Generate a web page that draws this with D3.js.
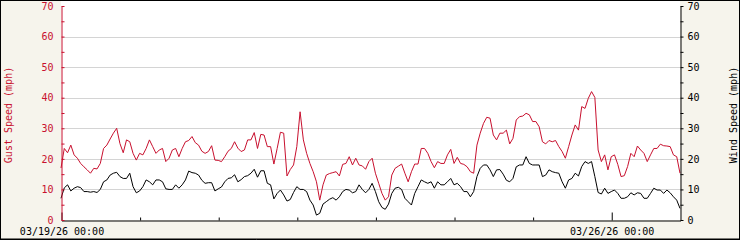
<!DOCTYPE html>
<html>
<head>
<meta charset="utf-8">
<script src="https://cdn.jsdelivr.net/npm/d3@7"></script>
<style>
  html, body { margin: 0; padding: 0; background: #fff; }
  svg { display: block; }
  text { font-family: "DejaVu Sans Mono", monospace; font-size: 10px; }
</style>
</head>
<body>
<svg id="chart" width="740" height="240"></svg>
<script>
// ---- data (hourly readings starting 03/19/26 00:00) ----
const startTime = "2026-03-19T00:00:00";
const gustSpeed = [
  17, 23.4, 22, 24.5, 21.3, 20.2, 18.5, 17.4, 16.4, 15.3,
  16.9, 16.7, 18.5, 23.4, 24.5, 26.5, 28.4, 30, 25, 22,
  26.2, 25.6, 21.8, 19.6, 21.8, 21.3, 23.4, 26.2, 24, 21.8,
  22.9, 23.4, 19.1, 20.2, 22.9, 23.4, 20.7, 23.4, 25.6, 26,
  27.3, 25.3, 24.5, 22.5, 21.8, 22.4, 24.3, 19.6, 19.5, 19.1,
  20.7, 22.5, 23.4, 25.6, 23.5, 22.4, 22.9, 26.2, 26.2, 28.6,
  23.4, 28, 27.8, 24, 24, 18.3, 23.4, 28.7, 28.4, 14.4,
  16.5, 18, 24, 35.4, 26.2, 21.8, 18.5, 15.8, 12.5, 6.5,
  11.5, 14.7, 15.2, 15.5, 15.8, 14.4, 18.2, 18.5, 20.7, 18,
  20.2, 18, 17.7, 16.6, 19.1, 20.2, 15.3, 12, 8.7, 6.5,
  7.6, 14.7, 16.9, 17.6, 18.3, 15.3, 12.5, 15.8, 18.3, 18.3,
  23.4, 23.4, 21.8, 19.1, 17.1, 19.1, 18.5, 18.5, 21.3, 23.1,
  18.5, 20.5, 18.5, 18.2, 17.4, 15.8, 15.3, 24.5, 28.4, 31.6,
  33.6, 33.3, 27.8, 26.2, 28.4, 28.4, 29.4, 24.9, 26.7, 32.7,
  33.8, 34, 34.9, 34.4, 32.2, 32.2, 30.5, 25.6, 24.9, 26,
  25.6, 26, 24, 22.4, 20.2, 24, 27.8, 31.1, 29.4, 37.1,
  36.5, 39.8, 42, 40.1, 22.9, 19.1, 21.3, 16.4, 20.7, 21.3,
  18.2, 14.2, 14.5, 17.5, 21.8, 20.7, 24.2, 22.9, 21.8, 19.1,
  21.3, 23.4, 23.4, 24.8, 24.3, 24.2, 24, 21.3, 20.7, 15.3
];
const windSpeed = [
  7.1, 10.5, 11.5, 9.5, 10.4, 10.9, 10.6, 9.3, 9.3, 9.1,
  9.3, 9.0, 10, 12.5, 13.1, 14.7, 15.3, 15.6, 14.2, 13.6,
  13.6, 15.3, 10.9, 8.9, 9.5, 10.9, 13.1, 12.5, 11.5, 13.1,
  13.1, 12.5, 10.2, 10, 10, 11.5, 10.4, 11.5, 13.1, 16,
  15.5, 15.3, 14.7, 13, 12, 12.2, 12.2, 9.5, 10.2, 10.8,
  12.5, 13.6, 13.8, 14.8, 12.5, 13.2, 14.2, 14.5, 15.3, 16.6,
  14, 16.1, 16.1, 12, 11.5, 6.9, 8.7, 9.8, 8.2, 6.2,
  6.7, 9, 10.9, 10, 10, 9.3, 6.5, 4.9, 1.6, 2.2,
  5.2, 6, 6.8, 7.3, 6.5, 7.6, 9.3, 10, 9.8, 8.9,
  9.3, 11.5, 10, 8.9, 10, 12, 9.3, 6, 4.1, 3.5,
  5.2, 8.7, 10.4, 10.7, 10, 7.1, 6, 4.9, 8.7, 10.9,
  13.1, 12.5, 12, 12.5, 10.4, 12.5, 11.5, 11.5, 12.5, 13.6,
  11.5, 12, 10.9, 9.3, 9.3, 7.6, 9.3, 14.2, 16.9, 18,
  18, 16.4, 14.2, 16.4, 16.5, 15, 13, 12.5, 13.6, 17.4,
  18, 18, 20.7, 18.5, 18, 18, 18, 14.2, 14.7, 16.4,
  15.8, 15.5, 15.3, 12.5, 10.4, 13.1, 13.6, 15.3, 14.4, 17.5,
  19.1, 18.5, 19.1, 14.2, 9, 8.5, 10.4, 8.7, 9.3, 9.8,
  8.7, 7.1, 7.1, 7.6, 8.9, 8.2, 8.9, 8.7, 7.1, 7.1,
  8.7, 10.4, 9.8, 9.8, 8.7, 9.8, 8.9, 7.6, 6.5, 3.8
];
const yTicks = [0, 5, 10, 15, 20, 25, 30, 35, 40, 45, 50, 55, 60, 65, 70];
const yGrid = [10, 20, 30, 40, 50, 60];
const labeledDays = ["2026-03-19T00:00:00", "2026-03-26T00:00:00"];
const leftTitle = "Gust Speed (mph)";
const rightTitle = "Wind Speed (mph)";

// ---- layout / style ----
const W = 740, H = 240;
const L = 61, R = 680, T = 6, B = 220;
const RED = "#c8102e";
const BG = "#f6f4ec";

const svg = d3.select("#chart");
const t0 = new Date(startTime);
const hour = 3600 * 1000;
const times = gustSpeed.map((_, i) => new Date(t0.getTime() + i * hour));
const tEnd = times[times.length - 1];

const x = d3.scaleTime().domain([t0, tEnd]).range([L, R]);
const yL = d3.scaleLinear().domain([0, 70]).range([B, T]);
const yR = d3.scaleLinear().domain([0, 70]).range([B, T]);

// background
svg.append("rect").attr("x", 0).attr("y", 0).attr("width", W).attr("height", H).attr("fill", BG);
svg.append("rect").attr("x", L).attr("y", 1).attr("width", R - L).attr("height", B - 1).attr("fill", "#fff");

// grid
svg.append("g").selectAll("line").data(yGrid).join("line")
  .attr("x1", L + 1).attr("x2", R)
  .attr("y1", d => Math.round(yL(d)) + 0.5).attr("y2", d => Math.round(yL(d)) + 0.5)
  .attr("stroke", "#d4d4d4").attr("stroke-width", 1);

// lines
const lineGen = (arr, sc) => d3.line()
  .x((d, i) => x(times[i]))
  .y(d => sc(d))(arr);

svg.append("path").attr("d", lineGen(gustSpeed, yL))
  .attr("fill", "none").attr("stroke", RED).attr("stroke-width", 1);
svg.append("path").attr("d", lineGen(windSpeed, yR))
  .attr("fill", "none").attr("stroke", "#000").attr("stroke-width", 1);

// x axis
const dayTicks = d3.timeDay.range(t0, tEnd);
const labeledSet = new Set(labeledDays.map(s => new Date(s).getTime()));
const fmt = d3.timeFormat("%m/%d/%y %H:%M");
const xAxis = d3.axisBottom(x).tickValues(dayTicks).tickSize(-3).tickSizeOuter(0).tickPadding(7)
  .tickFormat(d => labeledSet.has(d.getTime()) ? fmt(d) : "");
const gx = svg.append("g").attr("transform", `translate(0.5,${B + 0.5})`).call(xAxis);
gx.select(".domain").attr("stroke", "#000");
gx.selectAll(".tick line").attr("stroke", "#000")
  .attr("y2", d => labeledSet.has(d.getTime()) ? -8 : -3);
gx.selectAll(".tick text").attr("fill", "#000").style("font-size", "10px")
  .style("font-family", '"DejaVu Sans Mono", monospace');

// left axis (red)
const leftAxis = d3.axisLeft(yL).tickValues(yTicks).tickSize(-3).tickSizeOuter(0).tickPadding(8)
  .tickFormat(d => d % 10 === 0 ? d : "");
const gl = svg.append("g").attr("transform", `translate(${L + 0.5},0)`).call(leftAxis);
gl.select(".domain").attr("stroke", RED);
gl.selectAll(".tick line").attr("stroke", RED);
gl.selectAll(".tick text").attr("fill", RED).style("font-size", "10px")
  .style("font-family", '"DejaVu Sans Mono", monospace');

// right axis (black)
const rightAxis = d3.axisRight(yR).tickValues(yTicks).tickSize(3).tickSizeOuter(0).tickPadding(4)
  .tickFormat(d => d % 10 === 0 ? d : "");
const gr = svg.append("g").attr("transform", `translate(${R + 0.5},0)`).call(rightAxis);
gr.select(".domain").attr("stroke", "#000");
gr.selectAll(".tick line").attr("stroke", "#000");
gr.selectAll(".tick text").attr("fill", "#000").style("font-size", "10px")
  .style("font-family", '"DejaVu Sans Mono", monospace');

// axis titles
svg.append("text").attr("transform", `translate(11.5,${(T + B) / 2 + 2}) rotate(-90)`)
  .attr("text-anchor", "middle").attr("fill", RED).text(leftTitle);
svg.append("text").attr("transform", `translate(736.5,${(T + B) / 2 + 2}) rotate(-90)`)
  .attr("text-anchor", "middle").attr("fill", "#000").text(rightTitle);

// outer frame
svg.append("rect").attr("x", 0.5).attr("y", 0.5).attr("width", W - 1).attr("height", H - 1.5)
  .attr("fill", "none").attr("stroke", "#000").attr("stroke-width", 1);
svg.append("line").attr("x1", 0).attr("x2", W).attr("y1", H - 0.5).attr("y2", H - 0.5)
  .attr("stroke", "#000");
</script>
</body>
</html>
